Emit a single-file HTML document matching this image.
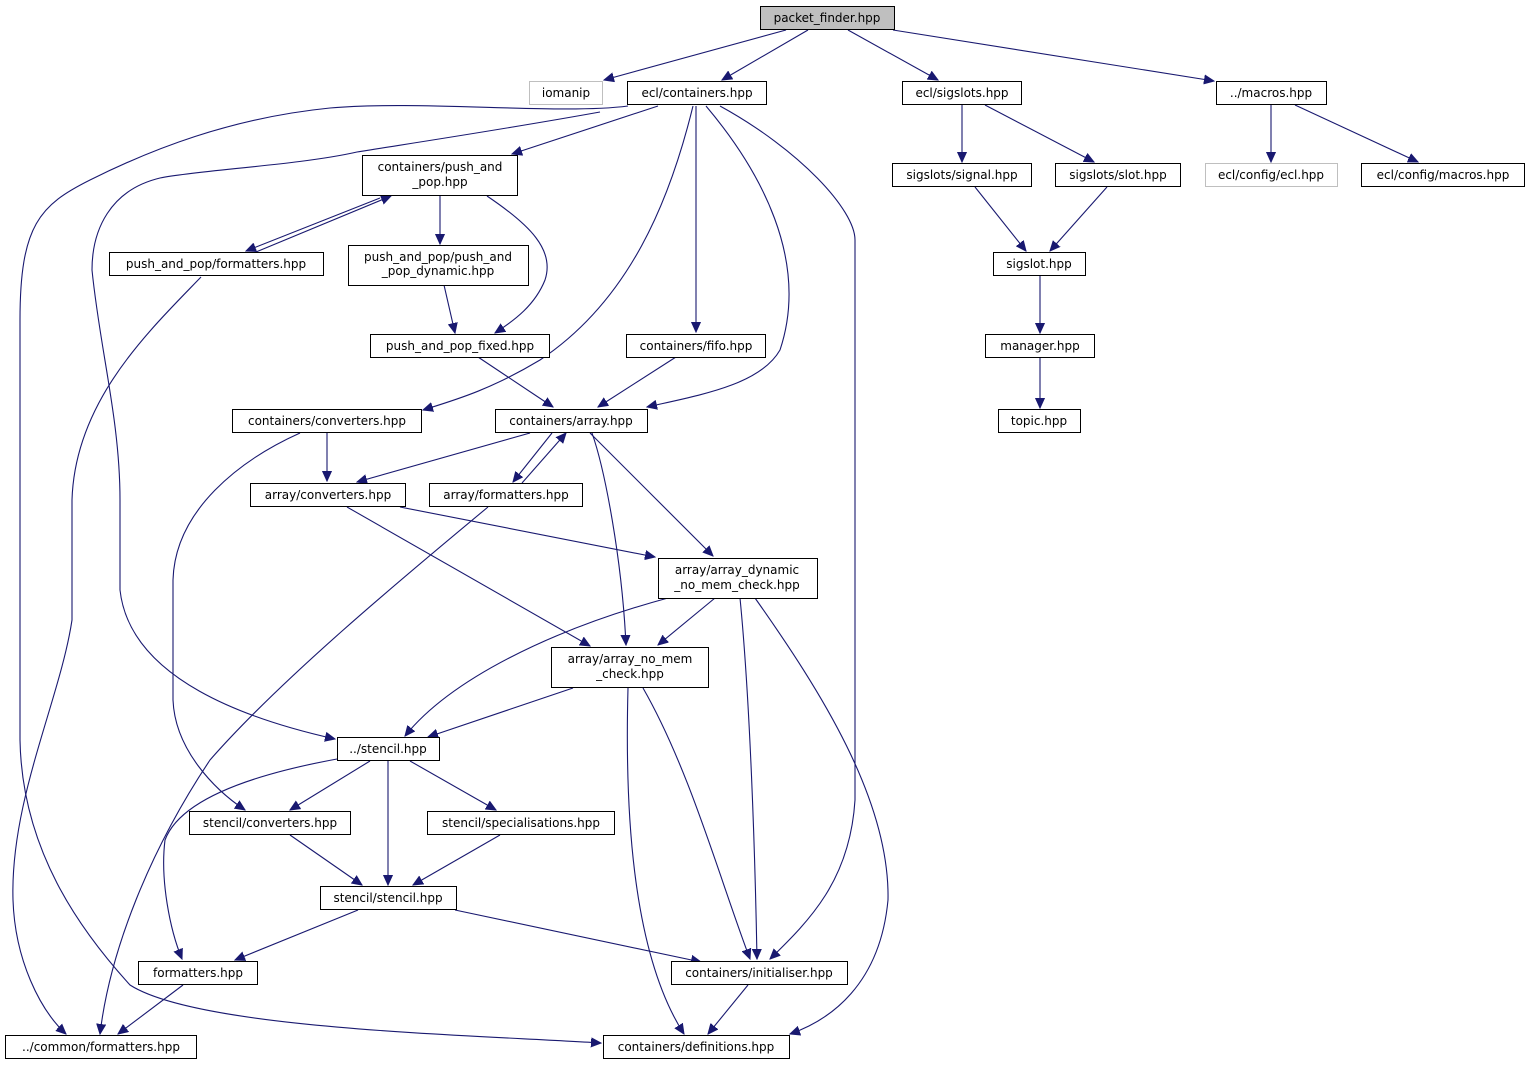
<!DOCTYPE html>
<html><head><meta charset="utf-8"><style>
html,body{margin:0;padding:0;background:#fff;}
svg{display:block;}
text{font-family:"DejaVu Sans","Liberation Sans",sans-serif;font-size:12px;fill:#000;}
.e{fill:none;stroke:#191970;stroke-width:1.1;marker-end:url(#a);}
.n{fill:#fff;stroke:#000;stroke-width:1;}
.g{fill:#fff;stroke:#bfbfbf;stroke-width:1;}
</style></head><body>
<svg width="1530" height="1067" viewBox="0 0 1530 1067" xmlns="http://www.w3.org/2000/svg">
<defs><marker id="a" markerUnits="userSpaceOnUse" markerWidth="11" markerHeight="10" refX="10" refY="5" orient="auto"><path d="M0,0.5 L10,5 L0,9.5 Z" fill="#191970" stroke="#191970"/></marker></defs>
<g>
<path class="e" d="M786,30 L604,80"/>
<path class="e" d="M808,30 L722,80"/>
<path class="e" d="M848,30 L938,80"/>
<path class="e" d="M893,30 L1214,81"/>
<path class="e" d="M628,106 C560,115 420,100 330,108 C230,118 150,150 90,180 C40,205 20,225 20,320 L20,740 C22,850 80,930 130,985 C200,1030 480,1035 601,1043"/>
<path class="e" d="M600,112 C500,130 400,145 357,152 C300,165 200,170 160,178 C110,190 92,230 92,270 C100,350 120,420 120,500 L120,590 C130,680 250,720 335,739"/>
<path class="e" d="M658,106 L512,154"/>
<path class="e" d="M693,106 C670,200 630,300 540,360 C490,390 455,400 423,410"/>
<path class="e" d="M696,106 L696,332"/>
<path class="e" d="M706,106 C760,170 810,260 780,350 C760,385 700,395 647,407"/>
<path class="e" d="M720,106 C800,150 855,210 855,240 L855,800 C850,880 810,920 770,959"/>
<path class="e" d="M380,198 L246,251"/>
<path class="e" d="M256,252 L391,196"/>
<path class="e" d="M440,196 L440,244"/>
<path class="e" d="M487,196 C530,225 555,250 545,280 C535,305 515,320 495,333"/>
<path class="e" d="M444,285 L455,333"/>
<path class="e" d="M478,357 L553,407"/>
<path class="e" d="M676,357 L598,407"/>
<path class="e" d="M201,277 C150,330 75,400 72,500 L72,620 C60,700 10,800 13,900 C15,960 40,1010 66,1034"/>
<path class="e" d="M327,433 L327,481"/>
<path class="e" d="M300,433 C240,460 175,510 173,580 L173,700 C175,750 215,790 245,810"/>
<path class="e" d="M530,433 L357,482"/>
<path class="e" d="M552,433 L513,482"/>
<path class="e" d="M522,483 L566,433"/>
<path class="e" d="M592,433 C605,470 622,560 626,645"/>
<path class="e" d="M590,433 L713,556"/>
<path class="e" d="M400,507 L655,557"/>
<path class="e" d="M347,507 L590,646"/>
<path class="e" d="M488,507 C400,580 280,680 210,760 C150,850 110,950 100,1034"/>
<path class="e" d="M668,598 C550,630 450,680 405,736"/>
<path class="e" d="M715,598 L658,645"/>
<path class="e" d="M740,598 C750,700 755,850 757,959"/>
<path class="e" d="M755,598 C820,690 890,800 888,900 C880,985 830,1020 790,1034"/>
<path class="e" d="M573,688 L428,737"/>
<path class="e" d="M643,688 C690,770 720,880 750,959"/>
<path class="e" d="M628,688 C625,800 630,950 684,1034"/>
<path class="e" d="M370,761 L290,810"/>
<path class="e" d="M388,761 L388,885"/>
<path class="e" d="M410,761 L496,810"/>
<path class="e" d="M337,759 C250,775 180,800 165,840 C160,880 170,930 182,959"/>
<path class="e" d="M290,835 L362,885"/>
<path class="e" d="M500,835 L413,885"/>
<path class="e" d="M358,910 L235,960"/>
<path class="e" d="M455,910 L701,962"/>
<path class="e" d="M183,985 L118,1034"/>
<path class="e" d="M748,985 L708,1034"/>
<path class="e" d="M962,105 L962,162"/>
<path class="e" d="M985,105 L1094,162"/>
<path class="e" d="M1271,105 L1271,162"/>
<path class="e" d="M1295,105 L1418,162"/>
<path class="e" d="M975,187 L1026,251"/>
<path class="e" d="M1107,187 L1050,251"/>
<path class="e" d="M1040,276 L1040,333"/>
<path class="e" d="M1040,358 L1040,408"/>
</g>
<g text-anchor="middle">
<rect x="760.5" y="6.5" width="134" height="23" fill="#bfbfbf" stroke="#000"/><text x="827" y="22">packet_finder.hpp</text>
<rect class="g" x="529.5" y="81.5" width="73" height="23"/><text x="566" y="97">iomanip</text>
<rect class="n" x="627.5" y="81.5" width="139" height="23"/><text x="697" y="97">ecl/containers.hpp</text>
<rect class="n" x="902.5" y="81.5" width="119" height="23"/><text x="962" y="97">ecl/sigslots.hpp</text>
<rect class="n" x="1216.5" y="81.5" width="110" height="23"/><text x="1271" y="97">../macros.hpp</text>
<rect class="n" x="362.5" y="155.5" width="155" height="40"/><text x="440" y="171">containers/push_and</text><text x="440" y="186">_pop.hpp</text>
<rect class="n" x="892.5" y="163.5" width="139" height="23"/><text x="962" y="179">sigslots/signal.hpp</text>
<rect class="n" x="1055.5" y="163.5" width="125" height="23"/><text x="1118" y="179">sigslots/slot.hpp</text>
<rect class="g" x="1205.5" y="163.5" width="132" height="23"/><text x="1271" y="179">ecl/config/ecl.hpp</text>
<rect class="n" x="1361.5" y="163.5" width="163" height="23"/><text x="1443" y="179">ecl/config/macros.hpp</text>
<rect class="n" x="109.5" y="252.5" width="214" height="23"/><text x="216" y="268">push_and_pop/formatters.hpp</text>
<rect class="n" x="348.5" y="245.5" width="180" height="40"/><text x="438" y="261">push_and_pop/push_and</text><text x="438" y="275">_pop_dynamic.hpp</text>
<rect class="n" x="993.5" y="252.5" width="92" height="23"/><text x="1039" y="268">sigslot.hpp</text>
<rect class="n" x="370.5" y="334.5" width="179" height="23"/><text x="460" y="350">push_and_pop_fixed.hpp</text>
<rect class="n" x="626.5" y="334.5" width="139" height="23"/><text x="696" y="350">containers/fifo.hpp</text>
<rect class="n" x="985.5" y="334.5" width="109" height="23"/><text x="1040" y="350">manager.hpp</text>
<rect class="n" x="232.5" y="409.5" width="189" height="23"/><text x="327" y="425">containers/converters.hpp</text>
<rect class="n" x="495.5" y="409.5" width="152" height="23"/><text x="571" y="425">containers/array.hpp</text>
<rect class="n" x="998.5" y="409.5" width="82" height="23"/><text x="1039" y="425">topic.hpp</text>
<rect class="n" x="250.5" y="483.5" width="155" height="23"/><text x="328" y="499">array/converters.hpp</text>
<rect class="n" x="429.5" y="483.5" width="153" height="23"/><text x="506" y="499">array/formatters.hpp</text>
<rect class="n" x="658.5" y="558.5" width="159" height="40"/><text x="737" y="574">array/array_dynamic</text><text x="737" y="589">_no_mem_check.hpp</text>
<rect class="n" x="551.5" y="647.5" width="157" height="40"/><text x="630" y="663">array/array_no_mem</text><text x="630" y="678">_check.hpp</text>
<rect class="n" x="337.5" y="737.5" width="102" height="23"/><text x="388" y="753">../stencil.hpp</text>
<rect class="n" x="189.5" y="811.5" width="161" height="23"/><text x="270" y="827">stencil/converters.hpp</text>
<rect class="n" x="427.5" y="811.5" width="187" height="23"/><text x="521" y="827">stencil/specialisations.hpp</text>
<rect class="n" x="320.5" y="886.5" width="136" height="23"/><text x="388" y="902">stencil/stencil.hpp</text>
<rect class="n" x="138.5" y="961.5" width="119" height="23"/><text x="198" y="977">formatters.hpp</text>
<rect class="n" x="671.5" y="961.5" width="176" height="23"/><text x="759" y="977">containers/initialiser.hpp</text>
<rect class="n" x="5.5" y="1035.5" width="191" height="23"/><text x="101" y="1051">../common/formatters.hpp</text>
<rect class="n" x="603.5" y="1035.5" width="186" height="23"/><text x="696" y="1051">containers/definitions.hpp</text>
</g>
</svg>
</body></html>
